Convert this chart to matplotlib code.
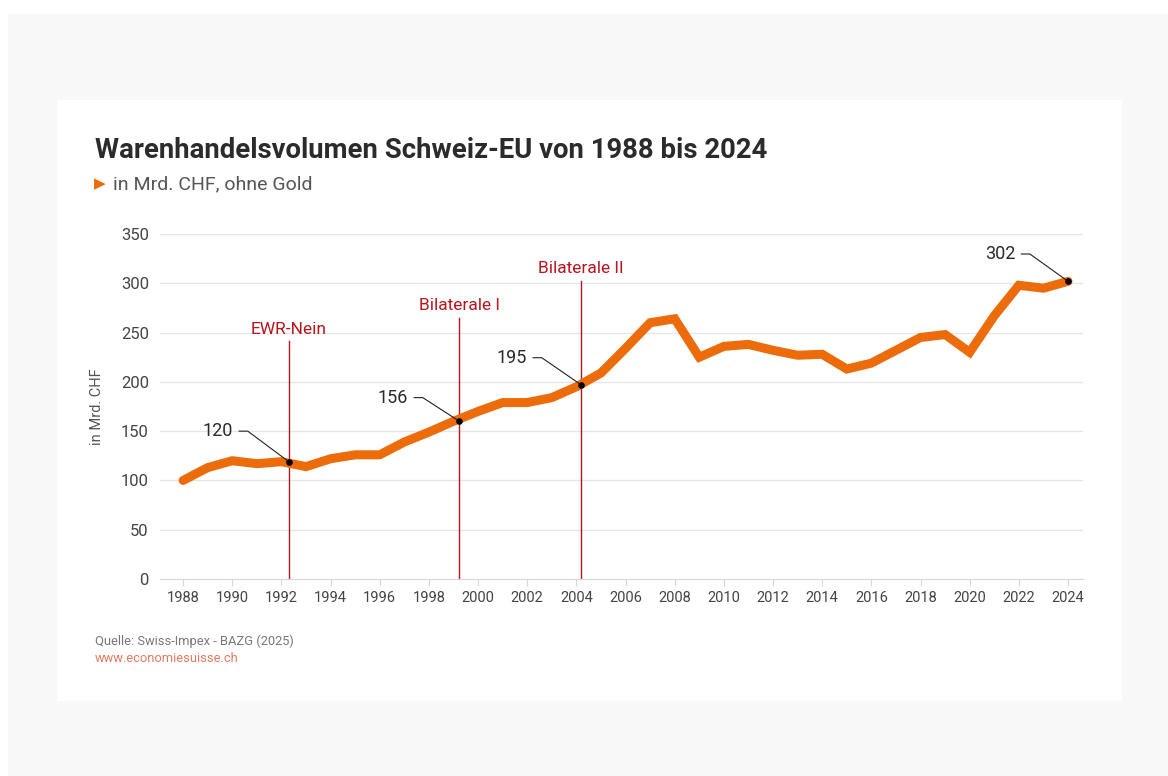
import matplotlib
matplotlib.use("Agg")
import matplotlib.pyplot as plt
from matplotlib.patches import Rectangle

plt.rcParams['font.family'] = ['Roboto', 'DejaVu Sans']

years = list(range(1988, 2025))
volume = [100, 113, 120, 117, 119, 114, 122, 126, 126, 139, 149, 160, 170, 179,
          179, 184, 195, 209, 234, 260, 264, 225, 236, 238, 232, 227, 228, 213,
          219, 232, 245, 248, 230, 267, 298, 295, 302]

# Ereignisse (Position, Linienhöhe, Beschriftung)
event_labels = ["EWR-Nein", "Bilaterale I", "Bilaterale II"]
event_x = [1992.3, 1999.24, 2004.19]
event_top = [241, 265, 302]

# hervorgehobene Werte
mark_labels = ["120", "156", "195", "302"]
mark_x = [1992.3, 1999.24, 2004.19, 2024]
mark_y = [119, 160, 197, 302]
label_x = [1990.03, 1997.15, 2001.99, 2021.85]
label_y = [150, 184, 224.5, 329.7]

W, H = 1168, 776
fig = plt.figure(figsize=(W / 100, H / 100), dpi=100)
fig.patch.set_facecolor('white')

# Hintergrund und Karte
fig.patches.append(Rectangle((8 / W, 0), 1, 1 - 14 / H, transform=fig.transFigure,
                             facecolor='#f8f8f8', edgecolor='none', zorder=-2))
fig.patches.append(Rectangle((57 / W, 1 - 701 / H), (1122 - 57) / W, (701 - 100) / H,
                             transform=fig.transFigure, facecolor='white',
                             edgecolor='none', zorder=-1))

ax = fig.add_axes([160 / W, 1 - 579 / H, (1083 - 160) / W, (579 - 234) / H])
ax.set_facecolor('none')

orange = '#ec6c0b'
red = '#b8151f'

ax.plot(years, volume, color=orange, lw=6.5, solid_joinstyle='miter',
        solid_capstyle='round', zorder=3)

for lab, x, top in zip(event_labels, event_x, event_top):
    ax.plot([x, x], [0, top], color=red, lw=1.0, zorder=2)
    ax.text(x, top + 5, lab, color=red, fontsize=12.5, ha='center', va='bottom')

for lab, x, y, tx, ty in zip(mark_labels, mark_x, mark_y, label_x, label_y):
    ax.scatter([x], [y], s=14, color='black', zorder=5)
    hx0 = tx + 0.25
    hx1 = tx + 0.6
    ax.plot([hx0, hx1, x], [ty, ty, y], color='#222222', lw=0.8, zorder=4)
    ax.text(tx, ty, lab, color='#2a2a2a', fontsize=13, ha='right', va='center')

ax.set_xlim(1987.06, 2024.61)
ax.set_ylim(0, 350)
ax.set_yticks(range(0, 351, 50))
ax.set_xticks(range(1988, 2025, 2))
ax.grid(axis='y', color='#e6e6e6', lw=1)
ax.set_axisbelow(True)
for s in ['top', 'right', 'left']:
    ax.spines[s].set_visible(False)
ax.spines['bottom'].set_color('#d8d8d8')
ax.tick_params(axis='y', length=0, pad=8, labelsize=12, labelcolor='#444444')
ax.tick_params(axis='x', length=5, color='#d8d8d8', pad=4, labelsize=10.5,
               labelcolor='#444444')
ax.set_ylabel("in Mrd. CHF", fontsize=10.5, color='#555555', labelpad=12)

fig.text(95 / W, 1 - 150 / H, "Warenhandelsvolumen Schweiz-EU von 1988 bis 2024",
         fontsize=19.8, fontweight='bold', color='#2b2b2b', va='center', ha='left')
fig.text(94 / W, 1 - 184 / H, "\u25B6", fontsize=11, color=orange, va='center',
         ha='left', family=['DejaVu Sans'])
fig.text(113 / W, 1 - 184 / H, "in Mrd. CHF, ohne Gold", fontsize=14,
         color='#555555', va='center', ha='left')
fig.text(95 / W, 1 - 641 / H, "Quelle: Swiss-Impex - BAZG (2025)", fontsize=9.3,
         color='#777777', va='center', ha='left')
fig.text(95 / W, 1 - 658 / H, "www.economiesuisse.ch", fontsize=9.3,
         color='#e07a5f', va='center', ha='left')

fig.savefig("out.png", dpi=100)
